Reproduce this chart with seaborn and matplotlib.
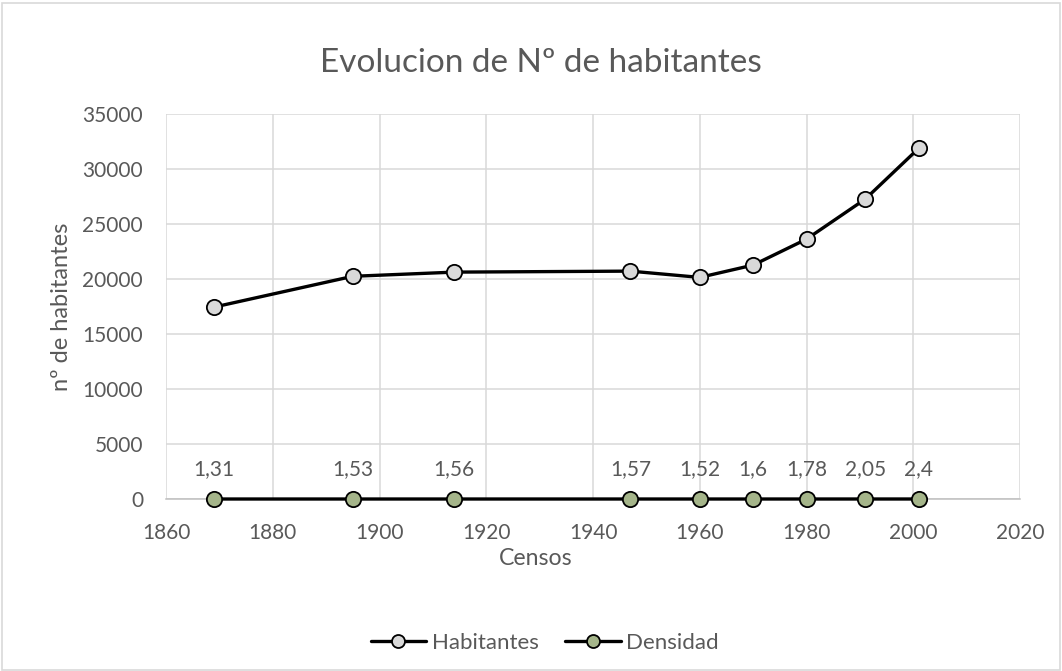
import matplotlib
matplotlib.use("Agg")
import matplotlib.pyplot as plt
import seaborn as sns
import pandas as pd
from matplotlib.patches import Rectangle

years = [1869, 1895, 1914, 1947, 1960, 1970, 1980, 1991, 2001]
habitantes = [17450, 20250, 20630, 20720, 20150, 21270, 23630, 27270, 31880]
densidad = [1.31, 1.53, 1.56, 1.57, 1.52, 1.6, 1.78, 2.05, 2.4]
densidad_labels = ["1,31", "1,53", "1,56", "1,57", "1,52", "1,6", "1,78", "2,05", "2,4"]

sns.set_style("white")
plt.rcParams['font.family'] = ['Lato', 'DejaVu Sans']
gray = "#595959"

df = pd.DataFrame({"Censos": years, "Habitantes": habitantes, "Densidad": densidad})

fig = plt.figure(figsize=(10.62, 6.71), dpi=100)
ax = fig.add_axes([0.1563, 0.2563, 0.9605 - 0.1563, 0.830 - 0.2563])

sns.lineplot(data=df, x="Censos", y="Habitantes", ax=ax, color="black", linewidth=2.4,
             marker="o", markersize=11, markerfacecolor="#d9d9d9", markeredgecolor="black",
             markeredgewidth=1.3, label="Habitantes", legend=False, zorder=3, clip_on=False)
sns.lineplot(data=df, x="Censos", y="Densidad", ax=ax, color="black", linewidth=2.4,
             marker="o", markersize=11, markerfacecolor="#a5b58a", markeredgecolor="black",
             markeredgewidth=1.3, label="Densidad", legend=False, zorder=3, clip_on=False)

for x, y, t in zip(years, densidad, densidad_labels):
    ax.annotate(t, (x, y), xytext=(0, 17.3), textcoords="offset points", ha="center",
                va="baseline", fontsize=15, color=gray)

ax.set_xlim(1860, 2020)
ax.set_ylim(0, 35000)
ax.set_xticks(range(1860, 2021, 20))
ax.set_yticks(range(0, 35001, 5000))
ax.grid(True, color="#d9d9d9", linewidth=1.1)
for s in ["top", "right", "left"]:
    ax.spines[s].set_visible(False)
ax.spines["bottom"].set_color("#bfbfbf")
ax.spines["bottom"].set_linewidth(1.1)
ax.tick_params(axis="y", labelsize=15, colors=gray, length=0, pad=16.5)
ax.tick_params(axis="x", labelsize=15, colors=gray, length=0, pad=17)
ax.set_xlabel("Censos", fontsize=16.7, color=gray)
ax.set_ylabel("nº de habitantes", fontsize=17, color=gray)
ax.xaxis.set_label_coords(0.433, -0.1714)
ax.xaxis.label.set_va("baseline")
ax.yaxis.set_label_coords(-0.1218, 0.5)
ax.yaxis.label.set_va("center")

fig.text(0.509, (671 - 72) / 671, "Evolucion de Nº de habitantes", ha="center", va="baseline",
         fontsize=24, color=gray)

handles, labels = ax.get_legend_handles_labels()
fig.legend(handles, labels, loc="center", bbox_to_anchor=(0.513, 0.042), ncol=2,
           frameon=False, fontsize=16, labelcolor=gray, handlelength=2.5,
           handletextpad=0.25, columnspacing=1.2, markerscale=0.85)

fig.patches.append(Rectangle((0.002, 0.002), 0.996, 0.994, transform=fig.transFigure,
                             fill=False, edgecolor="#d9d9d9", linewidth=1.2))

fig.savefig("out.png", dpi=100)
